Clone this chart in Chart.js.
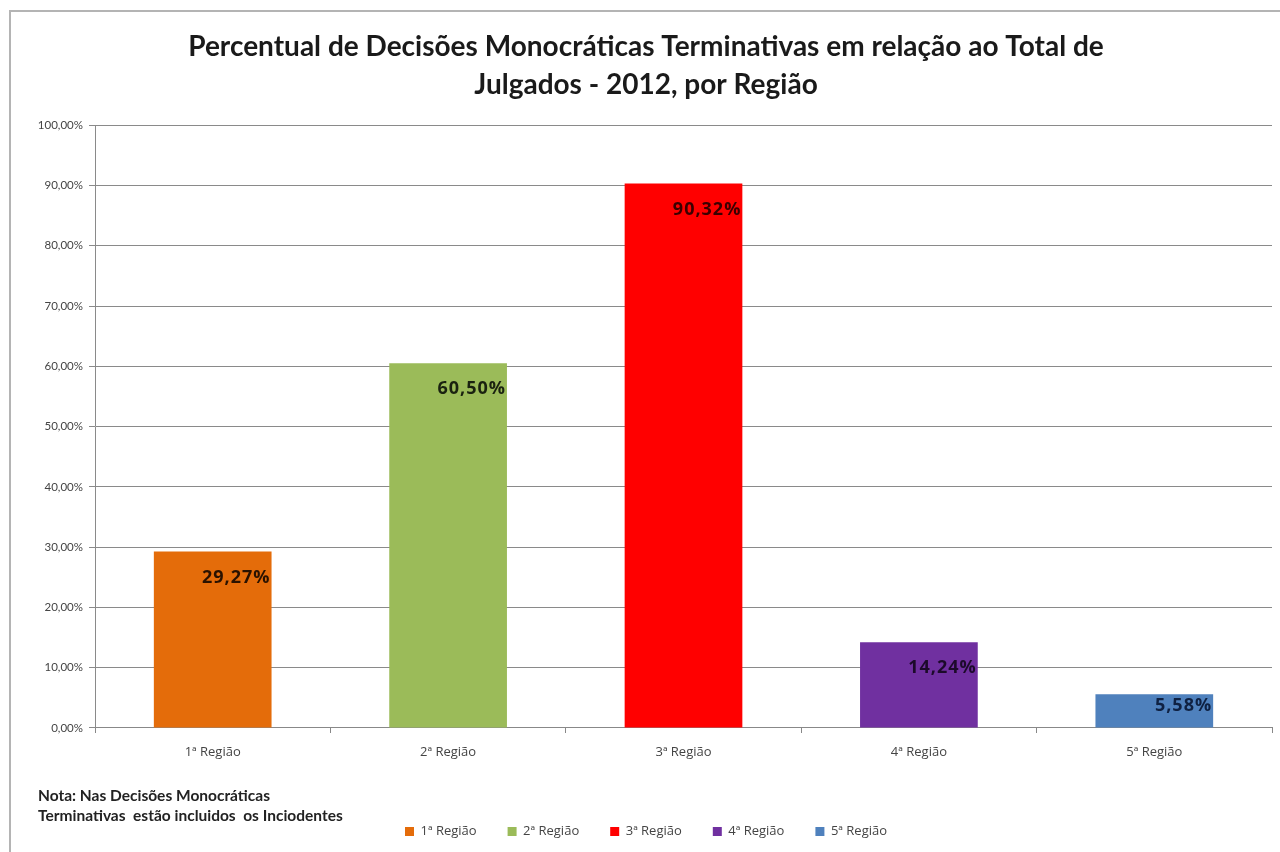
<!DOCTYPE html>
<html>
<head>
<meta charset="utf-8">
<script src="https://cdn.jsdelivr.net/npm/chart.js@4/dist/chart.umd.min.js"></script>
<style>
  html, body { margin: 0; padding: 0; background: #fff; }
  #wrap { width: 1280px; height: 852px; position: relative; }
</style>
</head>
<body>
<div id="wrap"><canvas id="c" width="1280" height="852"></canvas></div>
<script>
// Regions and their share of single-judge terminating decisions (%)
const regions = ['1ª Região', '2ª Região', '3ª Região', '4ª Região', '5ª Região'];
const percentages = [29.27, 60.50, 90.32, 14.24, 5.58];
const barColors = ['#E46C0A', '#9BBB59', '#FF0000', '#7030A0', '#4F81BD'];
const valueLabelColors = ['#2a1200', '#1a2210', '#3a0000', '#1c0a2a', '#0f2142'];
const titleLines = ['Percentual de Decisões Monocráticas Terminativas em relação ao Total de',
                    'Julgados - 2012, por Região'];
const noteLines = ['Nota: Nas Decisões Monocráticas', 'Terminativas  estão incluidos  os Inciodentes'];

const fmtPct = v => v.toFixed(2).replace('.', ',') + '%';

// Frame, value labels inside the bars and the footnote
const decorations = {
  id: 'decorations',
  beforeDraw(chart) {
    const ctx = chart.ctx;
    ctx.save();
    ctx.fillStyle = '#fff';
    ctx.fillRect(0, 0, chart.width, chart.height);
    ctx.strokeStyle = '#b4b4b4';
    ctx.lineWidth = 2;
    ctx.beginPath();
    ctx.moveTo(10, 852);
    ctx.lineTo(10, 11);
    ctx.lineTo(1280, 11);
    ctx.stroke();
    ctx.restore();
  },
  afterDatasetsDraw(chart) {
    const ctx = chart.ctx;
    const meta = chart.getDatasetMeta(0);
    ctx.save();
    ctx.font = 'bold 18px "Open Sans", Lato, sans-serif';
    ctx.letterSpacing = '1px';
    ctx.textAlign = 'right';
    ctx.textBaseline = 'middle';
    meta.data.forEach((bar, i) => {
      const h = bar.base - bar.y;
      const off = Math.min(26, h / 3);
      ctx.fillStyle = valueLabelColors[i];
      ctx.fillText(fmtPct(percentages[i]), bar.x + bar.width / 2 - 1, bar.y + off);
    });
    ctx.letterSpacing = '0px';
    ctx.font = 'bold 15.5px Lato, "Open Sans", sans-serif';
    ctx.textAlign = 'left';
    ctx.fillStyle = '#222';
    ctx.fillText(noteLines[0], 38, 796);
    ctx.fillText(noteLines[1], 38, 816);
    ctx.restore();
  }
};

new Chart(document.getElementById('c'), {
  type: 'bar',
  data: {
    labels: regions,
    datasets: [{
      data: percentages,
      backgroundColor: barColors,
      borderWidth: 0,
      categoryPercentage: 1,
      barPercentage: 0.5
    }]
  },
  options: {
    responsive: false,
    animation: false,
    devicePixelRatio: 1,
    layout: { padding: { left: 20, right: 8, top: 0, bottom: 4 } },
    plugins: {
      title: {
        display: true,
        text: titleLines,
        color: '#1a1a1a',
        font: { family: 'Lato, "Open Sans", sans-serif', size: 28, weight: 'bold', lineHeight: 1.36 },
        padding: { top: 28, bottom: 21 }
      },
      legend: {
        display: true,
        position: 'bottom',
        labels: {
          color: '#444',
          font: { family: '"Open Sans", Lato, sans-serif', size: 13 },
          boxWidth: 9,
          boxHeight: 9,
          padding: 31,
          generateLabels: chart => regions.map((r, i) => ({
            text: r,
            fillStyle: barColors[i],
            strokeStyle: barColors[i],
            lineWidth: 0,
            fontColor: '#444',
            index: i
          }))
        }
      },
      tooltip: { enabled: false }
    },
    scales: {
      x: {
        grid: { display: true, drawOnChartArea: false, offset: true, color: '#888', tickLength: 5 },
        border: { color: '#888' },
        ticks: { color: '#444', font: { family: '"Open Sans", Lato, sans-serif', size: 13 }, padding: 11 },
        afterFit: s => { s.height = 66; }
      },
      y: {
        min: 0,
        max: 100,
        ticks: {
          stepSize: 10,
          color: '#444',
          font: { family: 'Lato, "Open Sans", sans-serif', size: 11.5 },
          padding: 6,
          callback: v => fmtPct(v)
        },
        grid: { color: '#8a8a8a', tickLength: 6 },
        border: { color: '#8a8a8a' },
        afterFit: s => { s.width = 75; }
      }
    }
  },
  plugins: [decorations]
});
</script>
</body>
</html>
